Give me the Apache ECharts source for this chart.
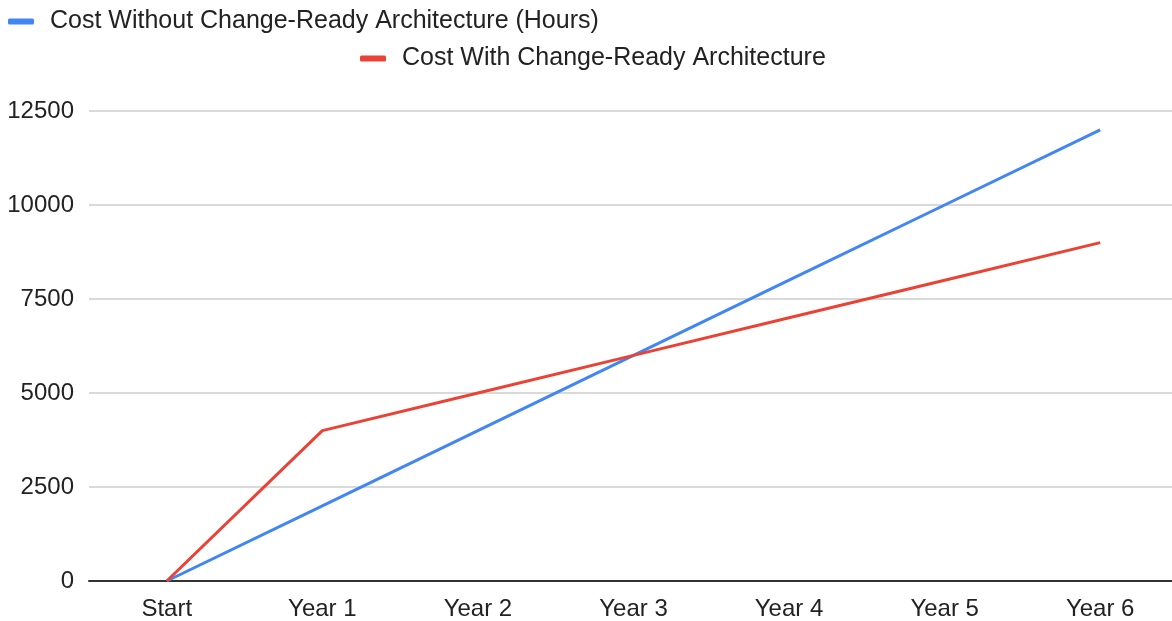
<!DOCTYPE html>
<html>
<head>
<meta charset="utf-8">
<script src="https://cdn.jsdelivr.net/npm/echarts@6/dist/echarts.min.js"></script>
<style>
  html, body { margin: 0; padding: 0; background: #fff; }
  #chart { width: 1172px; height: 621px; }
</style>
</head>
<body>
<div id="chart"></div>
<script>
// Cumulative cost in hours over six years
const categories = ['Start', 'Year 1', 'Year 2', 'Year 3', 'Year 4', 'Year 5', 'Year 6'];
const costWithout = [0, 2000, 4000, 6000, 8000, 10000, 12000];
const costWith = [0, 4000, 5000, 6000, 7000, 8000, 9000];
const seriesNames = ['Cost Without Change-Ready Architecture (Hours)', 'Cost With Change-Ready Architecture'];
const colors = ['#4285F4', '#EA4335'];

const font = 'Liberation Sans';
const chart = echarts.init(document.getElementById('chart'), null, { renderer: 'canvas' });

const legendBase = {
  orient: 'horizontal',
  icon: 'roundRect',
  itemWidth: 26,
  itemHeight: 6,
  selectedMode: false,
  textStyle: { fontFamily: font, fontSize: 25, color: '#222', padding: [0, 0, 0, 11] }
};

chart.setOption({
  animation: false,
  color: colors,
  legend: [
    Object.assign({}, legendBase, { data: [seriesNames[0]], left: 3, top: 4 }),
    Object.assign({}, legendBase, { data: [seriesNames[1]], left: 355, top: 41 })
  ],
  // plot area runs slightly past the right edge so the last band is clipped
  grid: { left: 89, right: -6, top: 111, bottom: 40, containLabel: false, outerBoundsMode: 'none' },
  xAxis: {
    type: 'category',
    data: categories,
    boundaryGap: true,
    axisTick: { show: false },
    axisLine: { lineStyle: { color: '#333', width: 2 } },
    axisLabel: { fontFamily: font, fontSize: 24, color: '#222', margin: 16 }
  },
  yAxis: {
    type: 'value',
    min: 0,
    max: 12500,
    interval: 2500,
    axisLine: { show: false },
    axisTick: { show: false },
    splitLine: { lineStyle: { color: '#ccc', width: 1.5 } },
    axisLabel: {
      fontFamily: font, fontSize: 24, color: '#222', margin: 15,
      formatter: function (v) { return String(v); }
    }
  },
  series: [
    {
      name: seriesNames[0],
      type: 'line',
      data: costWithout,
      showSymbol: false,
      symbol: 'none',
      lineStyle: { width: 3, color: colors[0] },
      z: 3
    },
    {
      name: seriesNames[1],
      type: 'line',
      data: costWith,
      showSymbol: false,
      symbol: 'none',
      lineStyle: { width: 3, color: colors[1] },
      z: 4
    }
  ]
});
</script>
</body>
</html>
